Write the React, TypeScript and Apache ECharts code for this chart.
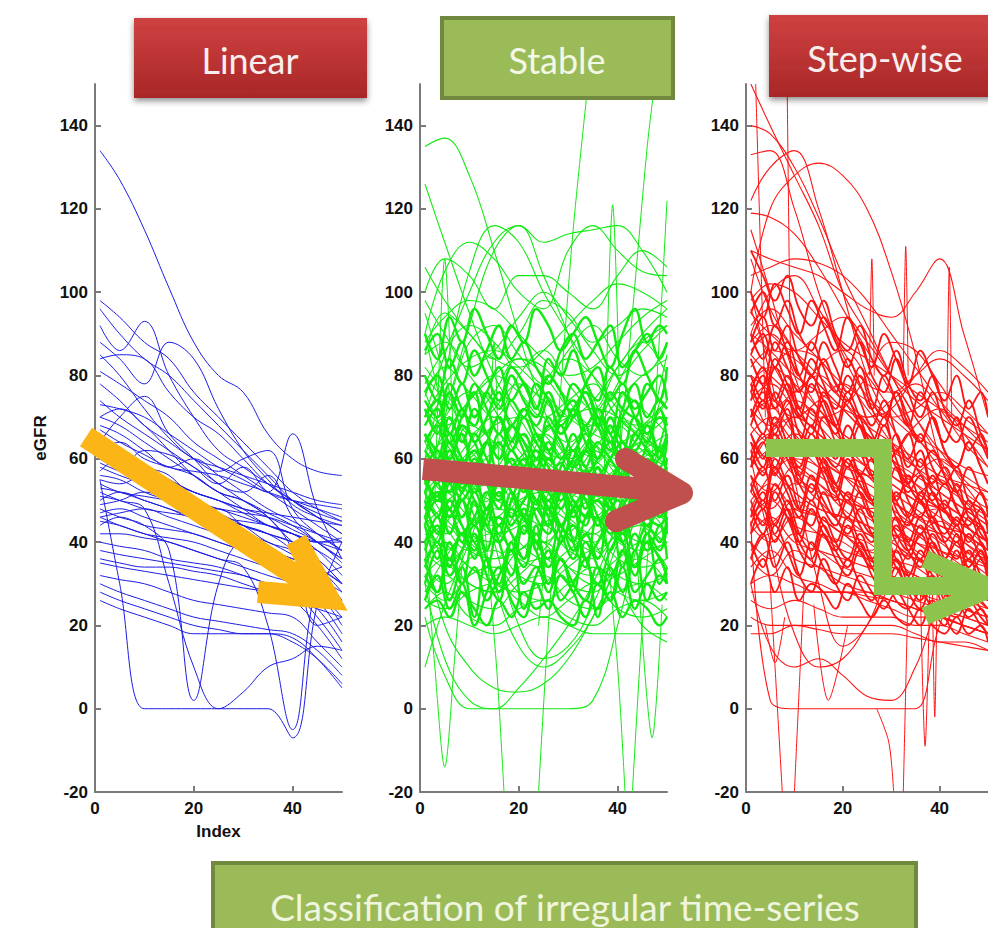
import React, { useEffect, useRef } from 'react';
import * as echarts from 'echarts';

const panelTitles = ['Linear', 'Stable', 'Step-wise'];
const footerTitle = 'Classification of irregular time-series';
const yAxisName = 'eGFR';
const xAxisName = 'Index';
const yTicks = [-20, 0, 20, 40, 60, 80, 100, 120, 140];
const xTicks = [0, 20, 40];

// ---- Linear (blue) ----
const linearX = [1, 5, 10, 15, 20, 25, 30, 35, 40, 45, 50];
const linearSeries: number[][] = [
  [134, 127, 115, 101, 88, 80, 76, 66, 60, 57, 56],
  [98, 94, 88, 84, 76, 70, 64, 58, 52, 48, 45],
  [92, 86, 93, 80, 70, 62, 58, 54, 50, 46, 42],
  [88, 84, 78, 88, 84, 72, 62, 55, 49, 46, 44],
  [84, 85, 84, 76, 70, 66, 60, 54, 50, 47, 45],
  [81, 78, 74, 70, 64, 60, 56, 52, 48, 44, 40],
  [78, 74, 68, 64, 60, 57, 60, 62, 48, 42, 38],
  [73, 72, 70, 66, 62, 58, 55, 52, 66, 48, 36],
  [70, 68, 64, 60, 56, 52, 50, 47, 44, 40, 36],
  [68, 66, 62, 58, 60, 56, 52, 48, 45, 42, 38],
  [66, 62, 58, 55, 52, 50, 47, 44, 42, 40, 38],
  [63, 60, 58, 55, 52, 50, 48, 46, 43, 40, 35],
  [60, 62, 58, 54, 50, 48, 46, 44, 42, 38, 32],
  [58, 56, 54, 52, 49, 46, 44, 42, 40, 36, 30],
  [56, 55, 52, 50, 48, 46, 45, 44, 42, 40, 40],
  [55, 54, 56, 54, 50, 47, 44, 40, 38, 34, 30],
  [53, 52, 50, 48, 46, 44, 42, 40, 37, 34, 28],
  [51, 50, 48, 47, 46, 44, 41, 38, 36, 33, 26],
  [49, 50, 52, 50, 47, 44, 40, 36, 33, 30, 24],
  [47, 48, 46, 44, 42, 40, 38, 36, 34, 32, 24],
  [45, 44, 42, 41, 40, 38, 36, 34, 32, 28, 20],
  [42, 42, 41, 40, 38, 36, 34, 32, 30, 26, 18],
  [40, 39, 38, 36, 35, 34, 32, 30, 28, 24, 16],
  [38, 37, 36, 35, 34, 33, 32, 30, 28, 22, 14],
  [35, 34, 33, 32, 31, 30, 29, 28, 26, 20, 12],
  [32, 31, 30, 28, 26, 25, 24, 23, 22, 16, 10],
  [30, 28, 26, 24, 22, 21, 20, 19, 18, 14, 8],
  [28, 26, 24, 22, 20, 19, 18, 18, 17, 12, 5],
  [26, 24, 22, 20, 18, 18, 18, 18, 16, 12, 6],
  [55, 30, 0, 0, 0, 0, 0, 0, -7, 25, 40],
  [48, 46, 44, 38, 2, 30, 40, 38, 36, 34, 30],
  [52, 50, 48, 30, 10, 0, 4, 10, 12, 15, 14],
  [46, 44, 42, 40, 38, 36, 34, 20, -5, 30, 34],
  [60, 58, 62, 61, 58, 54, 50, 46, 38, 20, 22],
  [64, 70, 75, 66, 60, 54, 52, 56, 46, 40, 36],
  [57, 60, 58, 56, 50, 46, 44, 42, 38, 32, 28],
  [44, 46, 44, 43, 42, 40, 38, 36, 32, 28, 22],
  [85, 80, 72, 65, 60, 58, 56, 54, 52, 50, 49],
  [74, 70, 66, 62, 58, 54, 58, 52, 50, 49, 48],
  [50, 52, 50, 48, 46, 48, 44, 42, 40, 38, 34],
  [96, 90, 84, 80, 74, 68, 62, 56, 50, 46, 42],
  [62, 64, 60, 58, 56, 52, 50, 46, 40, 36, 30],
  [54, 52, 51, 50, 49, 48, 47, 46, 44, 42, 40],
  [59, 57, 55, 54, 52, 50, 48, 47, 46, 45, 44],
  [67, 64, 61, 58, 57, 56, 54, 52, 50, 48, 46],
  [36, 35, 34, 34, 33, 32, 30, 28, 26, 24, 22],
  [46, 47, 48, 46, 44, 42, 40, 37, 34, 30, 26],
  [70, 72, 68, 62, 56, 52, 48, 44, 42, 40, 41],
];

// ---- Stable (green) ----
const stableX = [1, 5, 10, 15, 20, 25, 30, 35, 40, 45, 50];
const stableSeries: number[][] = [
  [135, 137, 128, 110, 90, 72, 60, 55, 50, 52, 50],
  [126, 112, 95, 80, 70, 62, 60, 62, 58, 56, 55],
  [60, 80, 105, 116, 112, 100, 90, 80, 70, 65, 62],
  [90, 105, 112, 108, 100, 96, 110, 116, 110, 105, 104],
  [70, 85, 100, 112, 116, 112, 114, 115, 116, 110, 100],
  [50, 70, 92, 110, 116, 104, 90, 75, 60, 50, 45],
  [100, 108, 104, 96, 104, 104, 100, 96, 104, 110, 106],
  [85, 95, 90, 84, 90, 98, 95, 88, 92, 96, 94],
  [80, 75, 88, 92, 85, 78, 86, 92, 84, 80, 88],
  [75, 82, 76, 70, 80, 86, 78, 72, 82, 88, 80],
  [72, 68, 74, 80, 76, 70, 74, 78, 70, 68, 74],
  [68, 74, 66, 72, 78, 70, 64, 70, 76, 72, 66],
  [66, 60, 68, 64, 58, 66, 72, 64, 60, 68, 70],
  [64, 70, 62, 58, 66, 60, 56, 62, 68, 62, 58],
  [62, 58, 64, 70, 62, 56, 62, 68, 60, 56, 64],
  [60, 64, 58, 54, 60, 66, 60, 54, 58, 64, 60],
  [58, 52, 60, 64, 56, 52, 58, 62, 56, 52, 56],
  [56, 60, 54, 50, 56, 60, 54, 50, 56, 60, 52],
  [54, 50, 56, 58, 50, 48, 54, 58, 50, 48, 54],
  [52, 56, 50, 46, 52, 56, 50, 46, 52, 54, 48],
  [50, 46, 52, 54, 48, 44, 50, 54, 46, 44, 50],
  [48, 52, 46, 44, 50, 52, 46, 42, 48, 52, 46],
  [46, 42, 48, 50, 44, 40, 46, 50, 44, 40, 44],
  [44, 48, 42, 40, 46, 48, 42, 40, 46, 48, 42],
  [42, 38, 44, 46, 40, 36, 42, 46, 40, 38, 40],
  [40, 44, 38, 36, 42, 44, 38, 36, 42, 44, 38],
  [38, 34, 40, 42, 36, 34, 38, 42, 36, 34, 36],
  [36, 40, 34, 32, 38, 40, 34, 32, 36, 40, 34],
  [34, 30, 36, 38, 32, 30, 34, 38, 32, 30, 32],
  [32, 36, 30, 28, 34, 36, 30, 28, 34, 36, 30],
  [30, 26, 32, 34, 28, 26, 30, 34, 28, 26, 28],
  [28, 32, 26, 24, 30, 32, 26, 24, 28, 30, 26],
  [26, 24, 28, 30, 26, 22, 26, 30, 24, 22, 24],
  [24, 28, 22, 20, 24, 26, 22, 20, 24, 26, 22],
  [20, 22, 20, 18, 20, 22, 20, 18, 18, 18, 18],
  [10, 25, 40, 55, 60, 50, 45, 40, 30, 20, 16],
  [22, 8, 0, 0, 5, 12, 20, 30, 45, 60, 80],
  [30, 12, 2, 0, 0, 0, 0, 2, 20, 45, 70],
  [40, 20, 10, 5, 4, 6, 12, 22, 35, 50, 65],
  [95, 80, 60, 40, 20, 12, 15, 25, 40, 60, 85],
  [90, 70, 50, 30, 15, 10, 14, 22, 35, 50, 70],
  [85, 88, 80, 72, 60, 55, 58, 66, 78, 88, 92],
  [78, 86, 92, 88, 80, 74, 70, 74, 82, 90, 96],
  [98, 90, 82, 86, 94, 100, 94, 86, 80, 86, 92],
  [76, 66, 58, 62, 70, 78, 84, 80, 72, 66, 70],
  [82, 76, 70, 76, 84, 82, 74, 68, 74, 80, 84],
  [58, 66, 74, 80, 84, 80, 72, 64, 58, 62, 66],
  [46, 54, 62, 68, 70, 66, 58, 50, 46, 50, 56],
  [36, 44, 52, 56, 54, 48, 42, 38, 42, 48, 52],
  [54, 46, 40, 36, 38, 44, 52, 58, 62, 60, 56],
  [64, 56, 48, 42, 44, 50, 58, 66, 70, 66, 60],
  [44, 36, 30, 28, 32, 38, 46, 52, 50, 44, 40],
  [70, 78, 84, 86, 82, 76, 70, 66, 64, 68, 74],
  [88, 94, 98, 96, 90, 84, 80, 82, 88, 94, 98],
  [52, 44, 38, 40, 48, 56, 62, 60, 54, 48, 46],
  [62, 70, 76, 74, 66, 58, 52, 50, 54, 60, 64],
  [106, 98, 90, 84, 82, 86, 92, 98, 102, 100, 96],
  [48, 40, 34, 30, 28, 30, 36, 44, 50, 54, 58],
  [28, 36, 44, 48, 46, 40, 34, 30, 32, 36, 40],
  [72, 64, 58, 56, 60, 66, 70, 72, 70, 64, 58],
];
const denseX = [1, 3.5, 6, 8.5, 11, 13.5, 16, 18.5, 21, 23.5, 26, 28.5, 31, 33.5, 36, 38.5, 41, 43.5, 46, 48.5, 50];
const stableDense: number[][] = [
  [30, 38, 26, 34, 22, 36, 28, 40, 24, 32, 38, 26, 30, 36, 22, 34, 28, 38, 26, 32, 30],
  [36, 28, 40, 30, 42, 32, 26, 38, 34, 44, 30, 36, 28, 40, 34, 26, 38, 32, 42, 30, 34],
  [40, 46, 34, 42, 36, 48, 40, 32, 44, 38, 30, 42, 48, 36, 40, 46, 34, 42, 38, 44, 36],
  [44, 36, 48, 40, 50, 38, 46, 42, 36, 48, 44, 52, 40, 34, 46, 42, 50, 38, 44, 40, 46],
  [46, 52, 42, 50, 40, 46, 54, 44, 48, 38, 50, 44, 40, 52, 46, 38, 48, 54, 42, 50, 44],
  [50, 42, 54, 46, 52, 44, 40, 50, 56, 46, 42, 54, 48, 44, 56, 50, 42, 46, 52, 48, 54],
  [52, 58, 48, 56, 50, 44, 56, 52, 46, 58, 52, 48, 56, 50, 44, 54, 58, 48, 52, 46, 50],
  [56, 50, 58, 52, 60, 54, 48, 58, 54, 50, 60, 56, 50, 46, 58, 52, 56, 62, 50, 56, 52],
  [58, 62, 54, 60, 52, 58, 64, 56, 60, 54, 48, 58, 62, 56, 60, 64, 54, 50, 58, 62, 56],
  [60, 54, 64, 58, 66, 60, 54, 62, 58, 66, 62, 56, 60, 68, 56, 60, 64, 58, 62, 54, 60],
  [64, 68, 60, 66, 58, 64, 70, 62, 66, 60, 68, 64, 58, 62, 70, 66, 60, 64, 68, 62, 66],
  [66, 60, 70, 64, 72, 66, 60, 68, 64, 58, 70, 66, 72, 64, 60, 68, 62, 70, 66, 72, 64],
  [70, 74, 66, 72, 64, 70, 76, 68, 72, 66, 62, 70, 74, 68, 72, 66, 76, 70, 64, 72, 68],
  [72, 66, 76, 70, 78, 72, 66, 74, 70, 78, 74, 68, 72, 76, 70, 64, 72, 78, 70, 74, 72],
  [76, 80, 72, 78, 70, 76, 82, 74, 78, 72, 80, 76, 70, 78, 82, 74, 78, 72, 76, 80, 74],
  [80, 74, 84, 78, 86, 80, 74, 82, 78, 72, 84, 80, 86, 78, 74, 82, 78, 86, 80, 74, 82],
  [86, 90, 82, 88, 80, 86, 92, 84, 88, 82, 78, 86, 90, 84, 88, 92, 82, 86, 90, 84, 88],
  [90, 84, 94, 88, 96, 90, 84, 92, 88, 96, 92, 86, 90, 94, 88, 82, 90, 96, 88, 92, 90],
  [26, 32, 24, 30, 20, 28, 34, 26, 22, 30, 24, 32, 28, 22, 30, 26, 34, 24, 30, 26, 28],
  [34, 40, 32, 38, 44, 36, 30, 40, 36, 42, 34, 40, 44, 36, 30, 38, 42, 34, 40, 36, 32],
  [46, 40, 50, 44, 38, 48, 42, 52, 46, 40, 48, 42, 36, 46, 50, 44, 40, 48, 44, 50, 42],
  [48, 54, 46, 52, 56, 48, 52, 46, 54, 50, 44, 52, 56, 48, 54, 50, 46, 52, 48, 56, 50],
  [54, 60, 52, 58, 62, 54, 50, 58, 52, 60, 56, 50, 58, 62, 54, 48, 56, 60, 54, 58, 52],
  [62, 58, 66, 60, 56, 64, 60, 68, 62, 56, 64, 60, 66, 58, 64, 60, 56, 66, 62, 58, 64],
  [68, 72, 64, 70, 76, 66, 70, 64, 72, 68, 74, 66, 70, 76, 68, 62, 70, 74, 66, 70, 68],
  [38, 44, 36, 42, 40, 34, 44, 38, 46, 40, 36, 44, 38, 42, 36, 46, 40, 34, 42, 38, 44],
  [52, 46, 56, 50, 54, 48, 58, 52, 46, 54, 50, 56, 46, 52, 58, 50, 54, 48, 56, 50, 54],
  [60, 56, 62, 54, 58, 64, 56, 60, 54, 62, 58, 52, 62, 58, 54, 60, 64, 56, 60, 54, 58],
  [44, 50, 48, 42, 46, 52, 44, 48, 42, 50, 46, 40, 48, 52, 44, 48, 42, 50, 46, 44, 48],
  [66, 62, 60, 68, 64, 58, 66, 62, 70, 64, 60, 68, 62, 66, 60, 70, 64, 62, 68, 60, 66],
  [32, 28, 36, 30, 34, 26, 32, 38, 30, 34, 28, 36, 30, 26, 34, 32, 38, 28, 32, 36, 30],
  [74, 70, 78, 72, 68, 76, 72, 80, 74, 70, 76, 70, 78, 74, 68, 76, 72, 70, 78, 74, 72],
  [24, 26, 22, 28, 24, 20, 26, 22, 28, 24, 26, 22, 20, 26, 24, 28, 22, 26, 24, 20, 22],
  [55, 51, 57, 53, 59, 55, 51, 57, 53, 49, 55, 59, 53, 57, 51, 55, 59, 53, 57, 51, 55],
  [48, 52, 46, 50, 44, 48, 52, 46, 50, 54, 48, 44, 50, 46, 52, 48, 44, 50, 54, 46, 50],
];
const stableSpikes: number[][][] = [
  [[24, 20], [28, 70], [31, 115], [34, 150]],
  [[40, 55], [43, 95], [46, 135], [47.5, 150]],
  [[47, 60], [49, 100], [50, 122]],
  [[37, 50], [40, 10], [41.5, -20]],
  [[43, -20], [45, 20], [47, 50]],
  [[1, 40], [3, 10], [5, -14], [7, 12], [9, 42]],
  [[13, 45], [15.5, 10], [17, -20]],
  [[24, -20], [26, 20], [28, 52]],
  [[44, 35], [47, -7], [49, 25]],
  [[37, 40], [39, 121], [41, 45]],
  [[3, 50], [5, 108], [7, 55]],
  [[14, 60], [15, 88], [16, 55]],
];

// ---- Step-wise (red) ----
const stepX = [1, 5, 10, 15, 20, 25, 30, 35, 40, 45, 50];
const stepSeries: number[][] = [
  [150, 140, 128, 116, 100, 90, 80, 70, 60, 50, 45],
  [140, 138, 130, 118, 104, 92, 80, 70, 62, 55, 50],
  [133, 134, 120, 100, 85, 75, 70, 65, 60, 56, 52],
  [122, 130, 134, 120, 100, 80, 68, 58, 50, 46, 42],
  [119, 118, 114, 106, 96, 86, 76, 66, 58, 52, 48],
  [100, 120, 128, 131, 128, 120, 105, 85, 60, 45, 40],
  [110, 108, 106, 104, 100, 96, 94, 100, 108, 90, 70],
  [104, 106, 108, 107, 104, 98, 90, 82, 74, 68, 62],
  [98, 102, 100, 94, 88, 84, 80, 76, 72, 68, 64],
  [95, 90, 86, 90, 94, 88, 80, 74, 70, 66, 62],
  [92, 96, 90, 84, 78, 74, 70, 72, 76, 72, 66],
  [90, 86, 80, 76, 72, 70, 74, 78, 72, 64, 58],
  [88, 92, 86, 80, 74, 68, 64, 60, 56, 54, 52],
  [85, 80, 76, 82, 86, 80, 72, 66, 62, 58, 56],
  [82, 86, 84, 78, 72, 66, 62, 58, 54, 50, 46],
  [80, 76, 70, 74, 78, 72, 64, 58, 52, 48, 44],
  [78, 82, 78, 72, 66, 62, 58, 54, 50, 46, 42],
  [76, 72, 76, 80, 74, 66, 60, 56, 52, 48, 44],
  [74, 78, 72, 66, 62, 60, 56, 52, 48, 44, 40],
  [72, 68, 74, 70, 64, 58, 54, 50, 48, 44, 40],
  [70, 74, 68, 62, 58, 56, 52, 48, 44, 42, 38],
  [68, 64, 70, 66, 60, 56, 50, 46, 44, 40, 36],
  [66, 70, 64, 60, 56, 52, 48, 44, 42, 38, 36],
  [64, 60, 66, 62, 56, 50, 46, 44, 40, 36, 34],
  [62, 66, 60, 56, 52, 50, 46, 42, 38, 36, 32],
  [60, 56, 62, 58, 52, 48, 44, 40, 38, 34, 30],
  [58, 62, 56, 52, 50, 46, 42, 40, 36, 32, 30],
  [56, 52, 58, 54, 48, 44, 42, 38, 34, 32, 28],
  [54, 58, 52, 48, 46, 42, 40, 36, 34, 30, 28],
  [52, 48, 54, 50, 44, 42, 38, 36, 32, 30, 26],
  [50, 54, 48, 46, 42, 40, 36, 34, 30, 28, 26],
  [48, 44, 50, 46, 42, 38, 36, 32, 30, 28, 24],
  [46, 50, 44, 42, 40, 36, 34, 32, 28, 26, 24],
  [44, 40, 46, 42, 38, 36, 32, 30, 28, 24, 22],
  [42, 46, 40, 38, 36, 34, 32, 28, 26, 24, 22],
  [40, 36, 42, 38, 34, 32, 30, 28, 24, 22, 20],
  [38, 42, 36, 34, 32, 30, 28, 26, 24, 22, 20],
  [36, 32, 38, 34, 30, 28, 26, 24, 22, 20, 18],
  [34, 38, 32, 30, 28, 28, 26, 24, 22, 20, 18],
  [30, 32, 30, 28, 28, 26, 24, 22, 22, 20, 18],
  [28, 28, 28, 28, 28, 27, 26, 24, 22, 20, 18],
  [26, 24, 26, 24, 22, 22, 22, 20, 20, 18, 16],
  [22, 20, 20, 20, 20, 20, 20, 18, 16, 16, 14],
  [18, 18, 20, 19, 18, 18, 18, 17, 16, 15, 14],
  [45, 2, 0, 0, 0, 0, 0, 0, 20, 30, 28],
  [30, 15, 10, 12, 8, 3, 2, 10, 25, 30, 28],
  [60, 40, 18, 10, 12, 20, 30, 40, 45, 40, 35],
  [100, 80, 55, 30, 15, 20, 35, 50, 55, 45, 38],
  [115, 100, 80, 70, 72, 80, 88, 86, 78, 70, 66],
  [90, 100, 104, 96, 86, 78, 76, 80, 84, 80, 74],
  [70, 80, 86, 84, 76, 70, 72, 80, 86, 82, 76],
  [58, 66, 70, 66, 60, 56, 60, 68, 72, 66, 58],
  [48, 56, 60, 58, 52, 48, 50, 56, 60, 54, 46],
  [36, 44, 48, 46, 42, 38, 40, 46, 48, 42, 36],
  [84, 74, 66, 60, 56, 54, 50, 46, 42, 38, 34],
  [76, 66, 58, 54, 50, 48, 44, 40, 36, 34, 30],
  [66, 58, 52, 48, 46, 44, 40, 36, 34, 30, 28],
  [108, 96, 86, 78, 72, 66, 60, 54, 48, 44, 40],
  [96, 84, 74, 68, 62, 58, 54, 50, 46, 42, 38],
  [86, 90, 82, 72, 66, 62, 56, 52, 48, 44, 40],
];
const stepDense: number[][] = [
  [90, 84, 92, 86, 80, 88, 82, 76, 84, 78, 72, 80, 74, 68, 76, 70, 64, 70, 62, 66, 60],
  [85, 90, 82, 88, 80, 76, 84, 78, 74, 80, 72, 68, 76, 70, 64, 70, 62, 58, 64, 58, 54],
  [80, 74, 84, 78, 72, 80, 74, 68, 76, 70, 64, 70, 62, 66, 58, 62, 56, 52, 58, 52, 48],
  [76, 82, 74, 80, 72, 68, 76, 70, 64, 70, 66, 60, 66, 58, 62, 54, 58, 52, 48, 52, 46],
  [72, 66, 76, 70, 64, 72, 66, 60, 68, 62, 56, 62, 58, 52, 56, 50, 54, 48, 44, 48, 42],
  [68, 74, 66, 72, 62, 68, 62, 58, 64, 56, 60, 54, 50, 56, 50, 46, 50, 44, 48, 42, 40],
  [64, 58, 68, 62, 56, 64, 58, 52, 60, 54, 50, 56, 50, 46, 52, 46, 42, 46, 40, 44, 38],
  [60, 66, 58, 64, 56, 52, 60, 54, 50, 56, 50, 46, 52, 46, 42, 46, 40, 36, 42, 36, 34],
  [56, 50, 60, 54, 48, 56, 50, 46, 52, 46, 42, 48, 42, 38, 44, 38, 36, 40, 34, 38, 32],
  [52, 58, 50, 56, 48, 44, 52, 46, 42, 48, 42, 38, 44, 38, 34, 40, 34, 30, 36, 30, 28],
  [48, 42, 52, 46, 40, 48, 42, 38, 44, 38, 34, 40, 34, 30, 36, 30, 28, 32, 26, 30, 26],
  [44, 50, 42, 48, 40, 36, 44, 38, 34, 40, 34, 30, 36, 30, 26, 32, 26, 24, 28, 24, 22],
  [40, 34, 44, 38, 32, 40, 34, 30, 36, 30, 26, 32, 26, 24, 28, 24, 20, 26, 22, 24, 20],
  [36, 42, 34, 40, 32, 28, 36, 30, 26, 32, 28, 24, 28, 24, 20, 26, 22, 18, 24, 20, 18],
  [100, 94, 102, 96, 90, 98, 92, 86, 94, 88, 82, 90, 84, 78, 86, 80, 74, 80, 72, 76, 70],
  [95, 100, 92, 98, 90, 86, 94, 88, 82, 88, 80, 76, 84, 76, 70, 76, 68, 64, 70, 64, 60],
  [110, 104, 98, 104, 96, 92, 98, 90, 86, 92, 84, 80, 86, 78, 74, 80, 72, 68, 74, 66, 62],
  [84, 78, 88, 82, 76, 84, 78, 72, 80, 74, 68, 74, 66, 60, 66, 58, 54, 58, 50, 48, 44],
  [74, 80, 72, 78, 70, 66, 74, 68, 62, 68, 60, 56, 62, 54, 50, 56, 48, 44, 50, 44, 40],
  [66, 60, 70, 64, 58, 66, 60, 54, 62, 56, 50, 56, 48, 44, 50, 44, 40, 44, 36, 40, 34],
  [58, 64, 56, 62, 54, 50, 58, 52, 46, 52, 46, 40, 46, 40, 36, 42, 36, 32, 38, 32, 30],
  [50, 44, 54, 48, 42, 50, 44, 40, 46, 40, 36, 42, 36, 32, 38, 32, 28, 34, 28, 32, 26],
  [46, 52, 44, 50, 42, 38, 46, 40, 36, 42, 36, 32, 38, 32, 28, 34, 28, 26, 30, 26, 24],
  [62, 56, 66, 60, 54, 62, 56, 50, 58, 52, 46, 52, 46, 40, 46, 40, 36, 42, 34, 38, 32],
  [70, 76, 68, 74, 66, 62, 70, 64, 58, 64, 56, 52, 58, 50, 46, 52, 44, 40, 46, 40, 36],
  [78, 72, 82, 76, 70, 78, 72, 66, 74, 68, 62, 68, 60, 54, 60, 52, 48, 54, 46, 44, 40],
  [88, 94, 86, 92, 84, 80, 88, 82, 76, 82, 74, 70, 76, 68, 64, 70, 62, 58, 64, 58, 54],
  [54, 48, 58, 52, 46, 54, 48, 44, 50, 44, 40, 46, 40, 36, 42, 36, 32, 38, 32, 36, 30],
  [42, 48, 40, 46, 38, 34, 42, 36, 32, 38, 32, 28, 34, 28, 24, 30, 24, 22, 26, 22, 20],
  [30, 36, 28, 34, 26, 30, 28, 24, 30, 26, 22, 26, 22, 20, 24, 20, 18, 22, 18, 20, 16],
];
const stepSpikes: number[][][] = [
  [[2, 150], [3, 110], [4, 70]],
  [[8.5, 150], [9, 100], [9.5, 60]],
  [[5, 30], [6.5, 0], [7.5, -20]],
  [[10, -20], [11, 5], [12, 30]],
  [[27, 0], [29.5, -8], [30.5, -20]],
  [[32.5, -20], [33, 5], [33.5, 30]],
  [[36, 30], [37, -9], [38, 30]],
  [[38.5, 30], [39, -2], [39.5, 30]],
  [[25.5, 80], [26, 108], [26.5, 80]],
  [[32.5, 80], [33, 111], [33.5, 80]],
  [[41.5, 70], [42, 106], [42.5, 70]],
  [[4, 20], [6, 11], [8, 22]],
  [[14, 25], [17, 2], [21, 20]],
];

const panelColors = ['#1c1ce6', '#12ea12', '#ff1414'];
const gridLefts = [95, 420, 746];

export default function App() {
  const ref = useRef<HTMLDivElement>(null);
  useEffect(() => {
    const chart = echarts.init(ref.current!, null, { renderer: 'svg' });
    const axisFont = 'Liberation Sans, Arial, sans-serif';
    const axisColor = '#7a7a7a';
    const labelStyle = { fontSize: 17, fontWeight: 'bold', color: '#111', fontFamily: axisFont };

    const grids = gridLefts.map((l) => ({ left: l, top: 84, width: 247, height: 708 }));
    const xAxes = gridLefts.map((_, i) => ({
      gridIndex: i, type: 'value', min: 0, max: 50,
      axisLine: { show: true, onZero: false, lineStyle: { color: axisColor, width: 2 } },
      axisTick: { show: true, inside: true, length: 6, customValues: xTicks, lineStyle: { color: axisColor, width: 2 } },
      axisLabel: { customValues: xTicks, margin: 8, ...labelStyle },
      splitLine: { show: false },
      name: i === 0 ? xAxisName : '', nameLocation: 'middle', nameGap: 31,
      nameTextStyle: labelStyle,
    }));
    const yAxes = gridLefts.map((_, i) => ({
      gridIndex: i, type: 'value', min: -20, max: 150,
      axisLine: { show: true, onZero: false, lineStyle: { color: axisColor, width: 2 } },
      axisTick: { show: true, inside: true, length: 6, customValues: yTicks, lineStyle: { color: axisColor, width: 2 } },
      axisLabel: { customValues: yTicks, margin: 7, ...labelStyle },
      splitLine: { show: false },
      name: i === 0 ? yAxisName : '', nameLocation: 'middle', nameGap: 46,
      nameTextStyle: labelStyle,
    }));

    const series: any[] = [];
    const addLine = (idx: number, data: number[][], smooth: number, width: number) => {
      series.push({
        type: 'line', xAxisIndex: idx, yAxisIndex: idx, data, smooth,
        showSymbol: false, symbol: 'none', silent: true,
        lineStyle: { color: panelColors[idx], width },
        itemStyle: { color: panelColors[idx] },
        emphasis: { disabled: true },
      });
    };
    linearSeries.forEach((ys) => addLine(0, linearX.map((x, k) => [x, ys[k]]), 0.4, 1));
    stableSeries.forEach((ys) => addLine(1, stableX.map((x, k) => [x, ys[k]]), 0.4, 1.1));
    stableDense.forEach((ys) => addLine(1, denseX.map((x, k) => [x, ys[k]]), 0.4, 2.4));
    stableSpikes.forEach((pts) => addLine(1, pts, 0.3, 1));
    stepSeries.forEach((ys) => addLine(2, stepX.map((x, k) => [x, ys[k]]), 0.4, 1.1));
    stepDense.forEach((ys) => addLine(2, denseX.map((x, k) => [x, ys[k]]), 0.4, 1.8));
    stepSpikes.forEach((pts) => addLine(2, pts, 0.3, 1));

    const redFill = { type: 'linear', x: 0, y: 0, x2: 0, y2: 1, colorStops: [
      { offset: 0, color: '#cf4141' }, { offset: 1, color: '#a92727' } ] };
    const boxFont = 'Lato, "Open Sans", sans-serif';
    const graphic: any[] = [
      { type: 'rect', z: 100, shape: { x: 134, y: 18, width: 233, height: 80 },
        style: { fill: redFill, shadowBlur: 6, shadowOffsetY: 3, shadowColor: 'rgba(0,0,0,0.45)' } },
      { type: 'text', z: 101, style: { text: panelTitles[0], x: 250, y: 60, fontSize: 36, fontFamily: boxFont, fill: '#f8eeee', align: 'center', verticalAlign: 'middle' } },
      { type: 'rect', z: 100, shape: { x: 442, y: 18, width: 231, height: 80 },
        style: { fill: '#9bbb59', stroke: '#71893f', lineWidth: 4 } },
      { type: 'text', z: 101, style: { text: panelTitles[1], x: 557, y: 60, fontSize: 36, fontFamily: boxFont, fill: '#f3f8e4', align: 'center', verticalAlign: 'middle' } },
      { type: 'rect', z: 100, shape: { x: 769, y: 15, width: 240, height: 82 },
        style: { fill: redFill, shadowBlur: 6, shadowOffsetY: 3, shadowColor: 'rgba(0,0,0,0.45)' } },
      { type: 'text', z: 101, style: { text: panelTitles[2], x: 885, y: 58, fontSize: 36, fontFamily: boxFont, fill: '#f8eeee', align: 'center', verticalAlign: 'middle' } },
      { type: 'rect', z: 100, shape: { x: 213, y: 863, width: 703, height: 80 },
        style: { fill: '#9bbb59', stroke: '#71893f', lineWidth: 4 } },
      { type: 'text', z: 101, style: { text: footerTitle, x: 565, y: 906, fontSize: 37, fontFamily: boxFont, fill: '#f0f5de', align: 'center', verticalAlign: 'middle' } },
      // yellow arrow (Linear)
      { type: 'polyline', z: 90, shape: { points: [[86, 437], [324, 594]] },
        style: { stroke: '#fbb516', lineWidth: 22, fill: null, lineCap: 'butt' } },
      { type: 'polyline', z: 90, shape: { points: [[296, 540], [328, 598], [258, 592]] },
        style: { stroke: '#fbb516', lineWidth: 22, fill: null, lineCap: 'butt', lineJoin: 'miter' } },
      // brown arrow (Stable)
      { type: 'polyline', z: 90, shape: { points: [[423, 469], [678, 492]] },
        style: { stroke: '#c0504d', lineWidth: 22, fill: null, lineCap: 'butt' } },
      { type: 'polyline', z: 90, shape: { points: [[626, 459], [682, 493], [616, 521]] },
        style: { stroke: '#c0504d', lineWidth: 22, fill: null, lineCap: 'round', lineJoin: 'round' } },
      // green step arrow (Step-wise)
      { type: 'polyline', z: 90, shape: { points: [[766, 448], [883, 448], [883, 586], [985, 586]] },
        style: { stroke: '#8dc44e', lineWidth: 18, fill: null, lineCap: 'butt', lineJoin: 'miter' } },
      { type: 'polyline', z: 90, shape: { points: [[925, 559], [992, 588], [925, 616]] },
        style: { stroke: '#8dc44e', lineWidth: 18, fill: null, lineCap: 'butt', lineJoin: 'miter' } },
    ];

    chart.setOption({
      animation: false,
      backgroundColor: '#ffffff',
      grid: grids,
      xAxis: xAxes,
      yAxis: yAxes,
      series,
      graphic,
    } as any);
    return () => chart.dispose();
  }, []);
  return <div ref={ref} style={{ position: 'absolute', left: 0, top: 0, width: 988, height: 928 }} />;
}
